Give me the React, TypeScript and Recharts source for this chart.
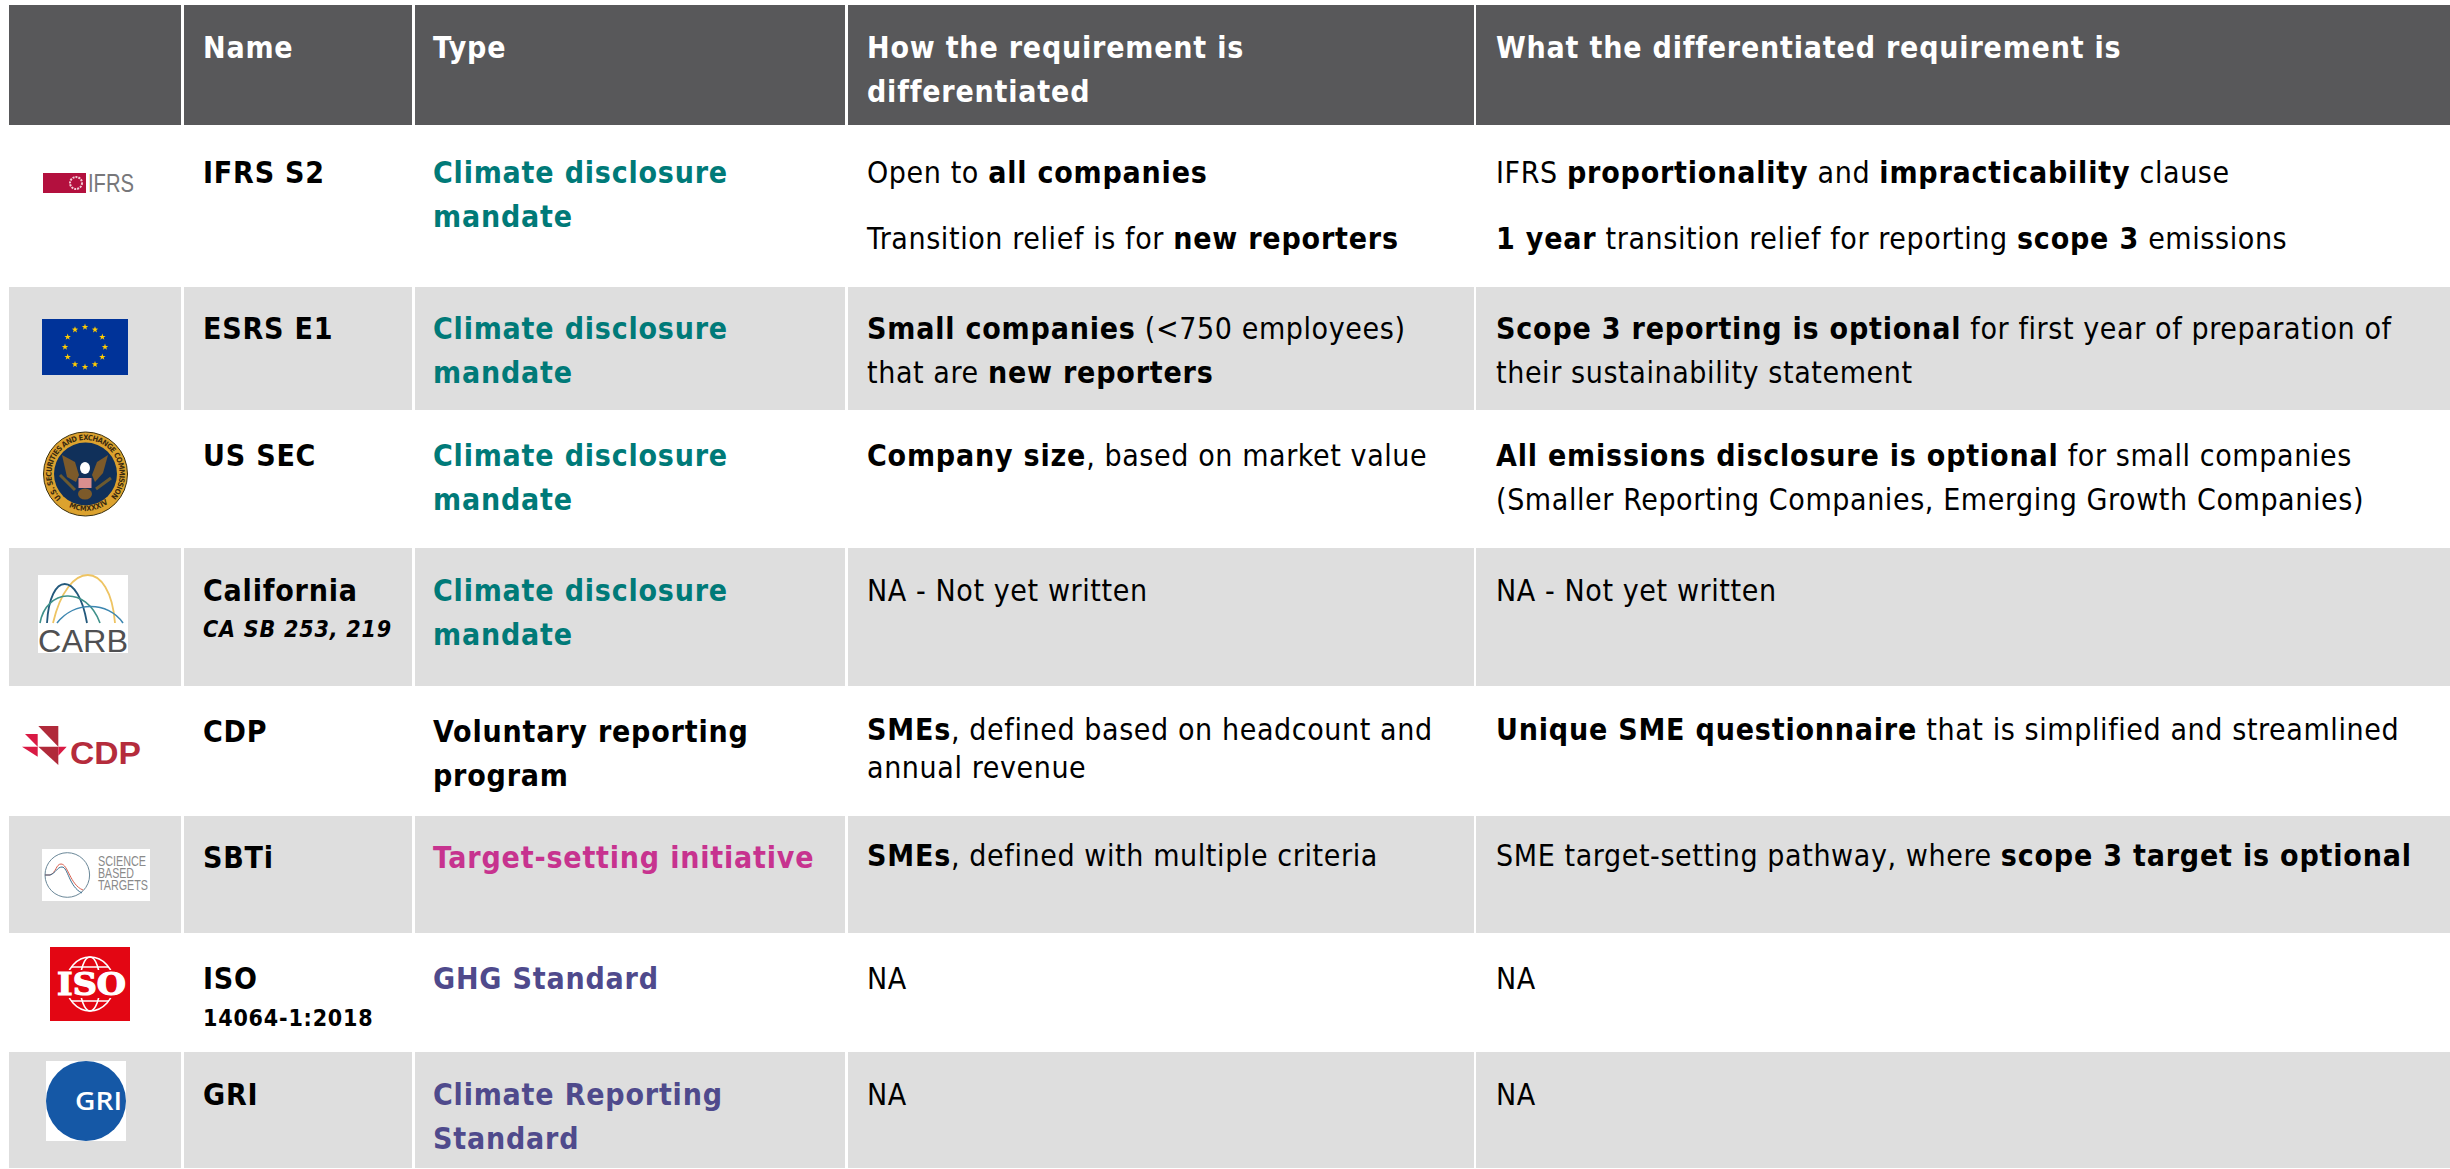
import { ComposedChart, ReferenceArea, Scatter, XAxis, YAxis } from "recharts"

const WIDTH = 2450
const HEIGHT = 1169

// table content
const headers = [
  { col: 1, lines: ["Name"] },
  { col: 2, lines: ["Type"] },
  { col: 3, lines: ["How the requirement is", "differentiated"] },
  { col: 4, lines: ["What the differentiated requirement is"] },
]
const names = ["IFRS S2", "ESRS E1", "US SEC", "California", "CDP", "SBTi", "ISO", "GRI"]
const nameNotes = ["", "", "", "CA SB 253, 219", "", "", "14064-1:2018", ""]
const types = [
  ["Climate disclosure", "mandate"],
  ["Climate disclosure", "mandate"],
  ["Climate disclosure", "mandate"],
  ["Climate disclosure", "mandate"],
  ["Voluntary reporting", "program"],
  ["Target-setting initiative"],
  ["GHG Standard"],
  ["Climate Reporting", "Standard"],
]
const typeColors = ["#007a78", "#007a78", "#007a78", "#007a78", "#000000", "#c7338f", "#4f4a8c", "#4f4a8c"]
const howText = [
  ["Open to **all companies**", "Transition relief is for **new reporters**"],
  ["**Small companies** (<750 employees)", "that are **new reporters**"],
  ["**Company size**, based on market value"],
  ["NA - Not yet written"],
  ["**SMEs**, defined based on headcount and", "annual revenue"],
  ["**SMEs**, defined with multiple criteria"],
  ["NA"],
  ["NA"],
]
const whatText = [
  ["IFRS **proportionality** and **impracticability** clause", "**1 year** transition relief for reporting **scope 3** emissions"],
  ["**Scope 3 reporting is optional** for first year of preparation of", "their sustainability statement"],
  ["**All emissions disclosure is optional** for small companies", "(Smaller Reporting Companies, Emerging Growth Companies)"],
  ["NA - Not yet written"],
  ["**Unique SME questionnaire** that is simplified and streamlined"],
  ["SME target-setting pathway, where **scope 3 target is optional**"],
  ["NA"],
  ["NA"],
]
const logos = ["ifrs", "eu", "sec", "carb", "cdp", "sbti", "iso", "gri"]

// table layout, in picture pixels
const colStart = [9, 184, 415, 848, 1476]
const colEnd = [181, 412, 845, 1474, 2450]
const rowEdges = [5, 126, 287, 411, 548, 687, 816, 934, 1052, 1169]
const textX = [0, 203, 433, 867, 1496]
const firstBaseline = [183, 339, 466, 601, 742, 868, 989, 1105]
const detailShift = [0, 0, 0, 0, -2, -2, 0, 0]
const howGap = [66, 44, 44, 44, 38, 44, 44, 44]
const whatGap = [66, 44, 44, 44, 44, 44, 44, 44]
const noteGap = [0, 0, 0, 36, 0, 0, 37, 0]
const logoX = [43, 42, 43, 38, 22, 42, 50, 46]
const logoY = [173, 319, 431, 575, 726, 849, 947, 1061]

const FONT = "'DejaVu Sans Condensed', 'DejaVu Sans', sans-serif"
const BODY_SIZE = 30
const TRACK_BOLD = 0.8
const TRACK_REGULAR = 0.6

type Item = { x: number; y: number; text: string; color: string; bold?: boolean; italic?: boolean; size?: number }

const items: Item[] = []
headers.forEach((h) =>
  h.lines.forEach((text, i) => items.push({ x: textX[h.col], y: 58 + i * 44, text, color: "#ffffff", bold: true })),
)
names.forEach((name, r) => {
  const y = firstBaseline[r]
  items.push({ x: textX[1], y, text: name, color: "#000000", bold: true })
  if (nameNotes[r]) {
    items.push({ x: textX[1], y: y + noteGap[r], text: nameNotes[r], color: "#000000", bold: true, italic: r === 3, size: 23 })
  }
  types[r].forEach((text, i) => items.push({ x: textX[2], y: y + i * 44, text, color: typeColors[r], bold: true }))
  howText[r].forEach((text, i) => items.push({ x: textX[3], y: y + detailShift[r] + i * howGap[r], text, color: "#000000" }))
  whatText[r].forEach((text, i) => items.push({ x: textX[4], y: y + detailShift[r] + i * whatGap[r], text, color: "#000000" }))
})

const logoPoints = logos.map((kind, i) => ({ x: logoX[i], y: logoY[i], kind }))

function TextCell(props: any) {
  const { cx, cy, payload } = props
  const parts = String(payload.text).split("**")
  return (
    <text
      x={cx}
      y={cy}
      fill={payload.color}
      fontFamily={FONT}
      fontSize={payload.size ?? BODY_SIZE}
      fontStyle={payload.italic ? "italic" : "normal"}
      style={{ fontStretch: "condensed" }}
    >
      {parts.map((part, i) => {
        const heavy = payload.bold || i % 2 === 1
        return (
          <tspan key={i} fontWeight={heavy ? 700 : 400} letterSpacing={heavy ? TRACK_BOLD : TRACK_REGULAR}>
            {part}
          </tspan>
        )
      })}
    </text>
  )
}

const euStars = [0, 30, 60, 90, 120, 150, 180, 210, 240, 270, 300, 330]
const sbtiWords = [
  { word: "SCIENCE", y: 17, w: 48 },
  { word: "BASED", y: 29, w: 36 },
  { word: "TARGETS", y: 41, w: 50 },
]

function starPoints(cx: number, cy: number, r: number) {
  const pts: string[] = []
  for (let i = 0; i < 10; i++) {
    const a = (i * Math.PI) / 5
    const d = i % 2 === 0 ? r : r * 0.4
    pts.push(`${cx + d * Math.sin(a)},${cy - d * Math.cos(a)}`)
  }
  return pts.join(" ")
}

function Logo(props: any) {
  const { cx: x, cy: y, payload } = props
  const t = `translate(${x} ${y})`
  switch (payload.kind) {
    case "ifrs":
      return (
        <g transform={t}>
          <rect width={43} height={20} fill="#b3103e" />
          <circle cx={33} cy={10} r={6} fill="none" stroke="#f2c9d4" strokeWidth={2} strokeDasharray="2 1" />
          <text x={45} y={19} fontFamily="'Liberation Sans', sans-serif" fontSize={26} fill="#77777a" textLength={46} lengthAdjust="spacingAndGlyphs">
            IFRS
          </text>
        </g>
      )
    case "eu":
      return (
        <g transform={t}>
          <rect width={86} height={56} fill="#003399" />
          {euStars.map((a) => (
            <polygon
              key={a}
              points={starPoints(43 + 20 * Math.sin((a * Math.PI) / 180), 28 - 20 * Math.cos((a * Math.PI) / 180), 3.4)}
              fill="#ffcc00"
            />
          ))}
        </g>
      )
    case "sec":
      return (
        <g transform={t}>
          <circle cx={42.5} cy={43} r={42} fill="#dca22e" stroke="#3a3010" strokeWidth={1} />
          <circle cx={42.5} cy={43} r={31.5} fill="#10305a" />
          <polygon points="19,24 32,31 36,44 33,51 24,46" fill="#7c5a2a" />
          <polygon points="65,24 54,31 49,44 52,51 60,42" fill="#7c5a2a" />
          <path d="M17 44 L32 59 M68 47 L53 58" stroke="#6b5a30" strokeWidth={3} />
          <ellipse cx={42} cy={37} rx={5} ry={6} fill="#ffffff" />
          <rect x={35.5} y={47} width={13} height={10} fill="#d98f8f" />
          <ellipse cx={42} cy={63} rx={7} ry={5.5} fill="#7c5a2a" />
          <path id="secTop" d="M18.5 67 A34 34 0 1 1 66.5 67" fill="none" />
          <path id="secBottom" d="M16 69 A37.5 37.5 0 0 0 69 69" fill="none" />
          <text fontFamily={FONT} fontSize={7.5} fontWeight={700} fill="#3a2a10">
            <textPath href="#secTop" textLength={158} lengthAdjust="spacing">
              U.S. SECURITIES AND EXCHANGE COMMISSION
            </textPath>
            <textPath href="#secBottom" startOffset={12}>
              MCMXXXIV
            </textPath>
          </text>
        </g>
      )
    case "carb":
      return (
        <g transform={t}>
          <rect width={90} height={78} fill="#ffffff" />
          <path d="M15 48 C30 -16 72 -16 77 48" fill="none" stroke="#eec463" strokeWidth={1.8} />
          <path d="M9 48 C12 -4 40 -4 49 48" fill="none" stroke="#23597c" strokeWidth={1.8} />
          <path d="M2 48 C8 14 48 10 62 48" fill="none" stroke="#3f918a" strokeWidth={1.6} />
          <path d="M19 48 C36 26 70 26 85 48" fill="none" stroke="#3c86b0" strokeWidth={1.6} />
          <text x={0} y={77} fontFamily="'Liberation Sans', sans-serif" fontSize={31} fill="#505052" textLength={90} lengthAdjust="spacingAndGlyphs">
            CARB
          </text>
        </g>
      )
    case "cdp":
      return (
        <g transform={t}>
          <polygon points="16.3,0 36.3,0 36.3,20.7" fill="#b02a3a" />
          <polygon points="3,8 15.7,8 15.7,20.7" fill="#d91a44" />
          <polygon points="0,20.7 15.7,20.7 15.7,30.7" fill="#d91a44" />
          <polygon points="16.3,20.7 36.3,20.7 36.3,39" fill="#b02a3a" />
          <polygon points="36.3,20.7 44.7,20.7 36.3,29.7" fill="#d91a44" />
          <text x={48} y={38} fontFamily="'Liberation Sans', sans-serif" fontSize={32} fontWeight={700} fill="#b52c3c" textLength={71} lengthAdjust="spacingAndGlyphs">
            CDP
          </text>
        </g>
      )
    case "sbti":
      return (
        <g transform={t}>
          <rect width={108} height={52} fill="#ffffff" />
          <circle cx={25.3} cy={26} r={22.3} fill="none" stroke="#6a8798" strokeWidth={1} />
          <path d="M3 26 H8 C14 24 14 15 19 15 C26 15 28 36 41 41" fill="none" stroke="#d9604f" strokeWidth={1} />
          <path d="M3 26 H8 C14 24 15 18 20 18 C26 18 27 38 40 44" fill="none" stroke="#3b6f8f" strokeWidth={1} />
          {sbtiWords.map((s) => (
            <text key={s.word} x={56} y={s.y} fontFamily="'Liberation Sans', sans-serif" fontSize={14} fill="#8a8a8a" textLength={s.w} lengthAdjust="spacingAndGlyphs">
              {s.word}
            </text>
          ))}
        </g>
      )
    case "iso":
      return (
        <g transform={t}>
          <rect width={80} height={74} fill="#e30613" />
          <ellipse cx={40} cy={37} rx={24} ry={27} fill="none" stroke="#ffffff" strokeWidth={1.6} />
          <ellipse cx={40} cy={37} rx={10} ry={27} fill="none" stroke="#ffffff" strokeWidth={1.6} />
          <path d="M21 20 H59 M21 54 H59" stroke="#ffffff" strokeWidth={1.6} />
          <rect x={4} y={23} width={72} height={28} fill="#e30613" />
          <text x={7} y={48} fontFamily="'DejaVu Serif', serif" fontSize={31} fontWeight={700} fill="#ffffff" stroke="#ffffff" strokeWidth={1.2} textLength={69} lengthAdjust="spacingAndGlyphs">
            ISO
          </text>
        </g>
      )
    case "gri":
      return (
        <g transform={t}>
          <rect width={80} height={80} fill="#ffffff" />
          <ellipse cx={40} cy={40} rx={40} ry={40} fill="#1558a6" />
          <text x={29} y={49} fontFamily="'Open Sans', sans-serif" fontSize={25} fontWeight={600} fill="#ffffff" textLength={47} lengthAdjust="spacingAndGlyphs">
            GRI
          </text>
        </g>
      )
    default:
      return null
  }
}

export default function App() {
  return (
    <div style={{ position: "absolute", left: 0, top: 0, width: WIDTH, height: HEIGHT, background: "#ffffff" }}>
      <ComposedChart width={WIDTH} height={HEIGHT} margin={{ top: 0, right: 0, bottom: 0, left: 0 }}>
        <XAxis type="number" dataKey="x" domain={[0, WIDTH]} hide />
        <YAxis type="number" dataKey="y" domain={[0, HEIGHT]} reversed hide />
        {rowEdges.slice(0, -1).map((top, r) =>
          colStart.map((start, c) => (
            <ReferenceArea
              key={`${r}-${c}`}
              x1={start}
              x2={colEnd[c]}
              y1={top}
              y2={rowEdges[r + 1] - 1}
              fill={r === 0 ? "#58585a" : r % 2 === 0 ? "#dedede" : "#ffffff"}
              fillOpacity={1}
              stroke="none"
            />
          )),
        )}
        <Scatter data={logoPoints} shape={Logo} isAnimationActive={false} />
        <Scatter data={items} shape={TextCell} isAnimationActive={false} />
      </ComposedChart>
    </div>
  )
}
